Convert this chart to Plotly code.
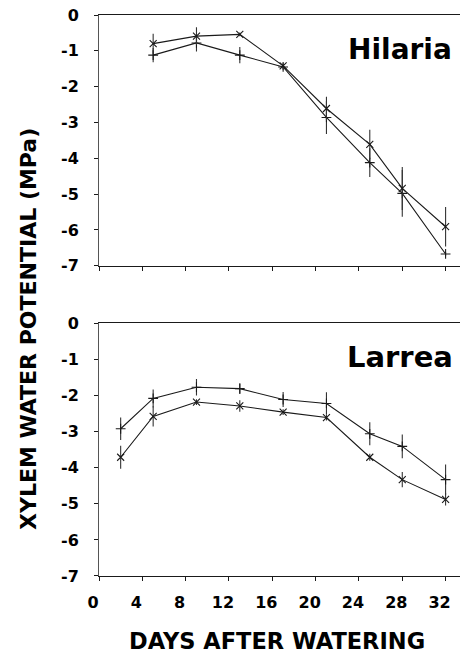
import plotly.graph_objects as go

# ---------------- data ----------------
hil_days = [5, 9, 13, 17, 21, 25, 28, 32]
hil_x = [-0.80, -0.59, -0.54, -1.42, -2.61, -3.61, -4.84, -5.91]
hil_x_err = [0.28, 0.25, 0.05, 0.08, 0.33, 0.41, 0.60, 0.55]
hil_p = [-1.12, -0.78, -1.12, -1.45, -2.86, -4.12, -4.98, -6.67]
hil_p_err = [0.20, 0.24, 0.23, 0.08, 0.46, 0.40, 0.65, 0.05]

lar_days = [2, 5, 9, 13, 17, 21, 25, 28, 32]
lar_p = [-2.92, -2.08, -1.77, -1.81, -2.11, -2.22, -3.06, -3.41, -4.33]
lar_p_err = [0.31, 0.25, 0.23, 0.15, 0.21, 0.31, 0.32, 0.33, 0.42]
lar_x = [-3.71, -2.58, -2.18, -2.29, -2.46, -2.61, -3.71, -4.33, -4.88]
lar_x_err = [0.32, 0.28, 0.08, 0.16, 0.08, 0.08, 0.10, 0.21, 0.17]

x_ticks = [0, 4, 8, 12, 16, 20, 24, 28, 32]
y_ticks = [0, -1, -2, -3, -4, -5, -6, -7]

FONT = "DejaVu Sans"
INK = "#1a1a1a"


def series(x, y, err, sym, xa, ya):
    return go.Scatter(
        x=x, y=y, xaxis=xa, yaxis=ya, mode="lines+markers",
        line=dict(color=INK, width=1.1),
        marker=dict(symbol=sym, size=7, color=INK, line=dict(color=INK, width=1.1)),
        error_y=dict(type="data", array=err, visible=True, width=0, thickness=1.1, color="#333"),
        showlegend=False, hoverinfo="skip",
    )


fig = go.Figure()
fig.add_trace(series(hil_days, hil_p, hil_p_err, "cross-thin", "x", "y"))
fig.add_trace(series(hil_days, hil_x, hil_x_err, "x-thin", "x", "y"))
fig.add_trace(series(lar_days, lar_p, lar_p_err, "cross-thin", "x2", "y2"))
fig.add_trace(series(lar_days, lar_x, lar_x_err, "x-thin", "x2", "y2"))

xcommon = dict(range=[0, 33.33], tickvals=x_ticks, ticks="outside", ticklen=4,
               tickcolor=INK, showline=True, linecolor=INK, linewidth=1, mirror=True,
               showgrid=False, zeroline=False, fixedrange=True)
ycommon = dict(range=[-7, 0], tickvals=y_ticks, ticktext=[str(v) for v in y_ticks],
               ticks="outside", ticklen=4, tickcolor=INK, showline=True, linecolor="#555",
               linewidth=1, showgrid=False, zeroline=False, fixedrange=True,
               ticklabelstandoff=12,
               tickfont=dict(family=FONT, size=16, color="black", weight="bold"))

fig.update_layout(
    width=460, height=659,
    margin=dict(l=99, r=0, t=15, b=83),
    paper_bgcolor="white", plot_bgcolor="white",
    xaxis=dict(**xcommon, anchor="y", showticklabels=False),
    yaxis=dict(**ycommon, domain=[0.553, 1.0], anchor="x"),
    xaxis2=dict(**xcommon, anchor="y2", showticklabels=True,
                tickfont=dict(family=FONT, size=16, color="black", weight="bold"),
                ticklabelshift=-6, ticklabelstandoff=8),
    yaxis2=dict(**ycommon, domain=[0.0, 0.4504], anchor="x2"),
    annotations=[
        dict(text="Hilaria", xref="paper", yref="paper", x=0.983, y=(576 - 50) / 561,
             xanchor="right", yanchor="middle", showarrow=False,
             font=dict(family=FONT, size=28, color="black", weight="bold")),
        dict(text="Larrea", xref="paper", yref="paper", x=0.986, y=(576 - 357) / 561,
             xanchor="right", yanchor="middle", showarrow=False,
             font=dict(family=FONT, size=29, color="black", weight="bold")),
        dict(text="XYLEM WATER POTENTIAL (MPa)", xref="paper", yref="paper",
             x=(28 - 99) / 361, y=(576 - 329) / 561, textangle=-90,
             xanchor="center", yanchor="middle", showarrow=False,
             font=dict(family=FONT, size=22, color="black", weight="bold")),
        dict(text="DAYS AFTER WATERING", xref="paper", yref="paper",
             x=(277 - 99) / 361, y=(576 - 641) / 561,
             xanchor="center", yanchor="middle", showarrow=False,
             font=dict(family=FONT, size=22.5, color="black", weight="bold")),
    ],
)

fig.write_html(
    "out.html",
    config={"displayModeBar": False},
    post_script="document.body.style.margin='0';document.body.style.overflow='hidden';",
)
